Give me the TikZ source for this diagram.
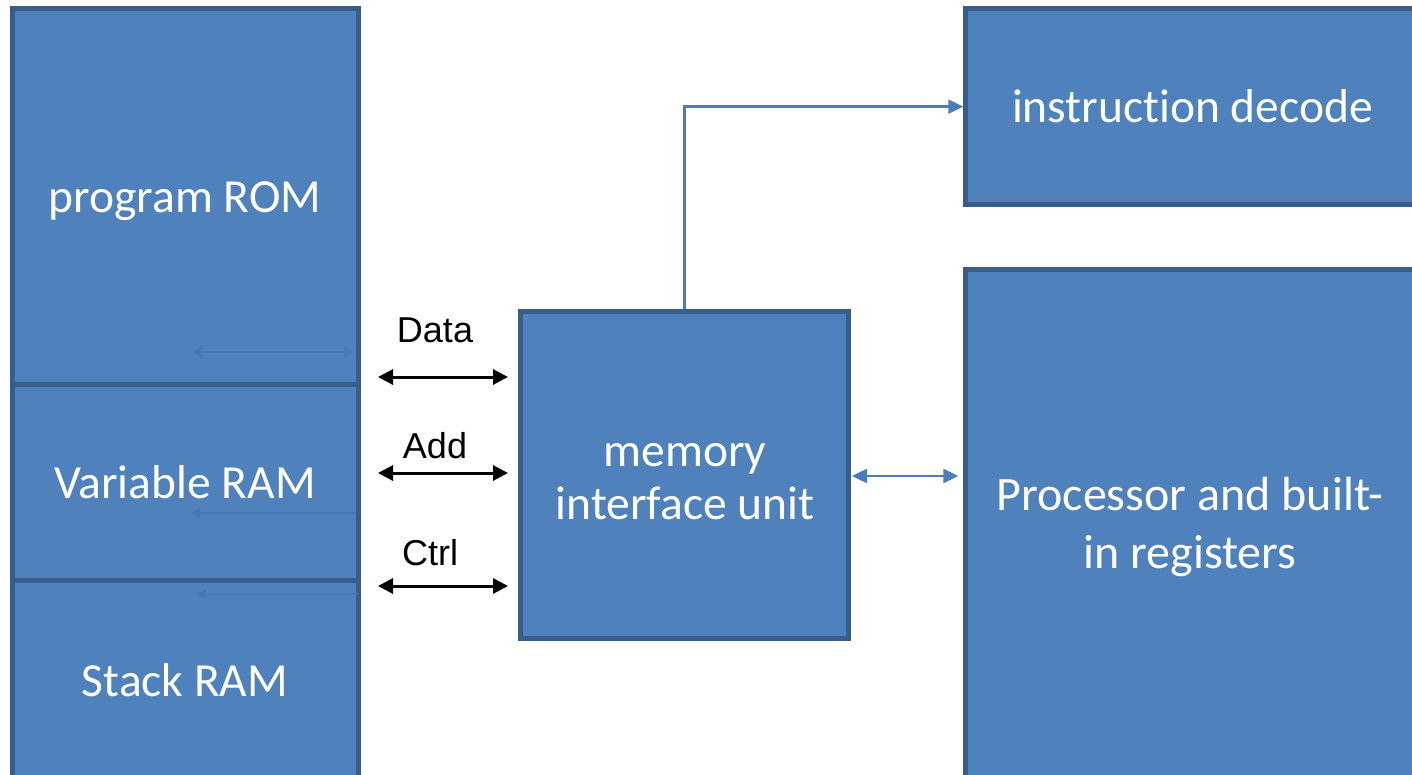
\documentclass[tikz,border=0pt]{standalone}
\usepackage{fontspec}
\setmainfont{Carlito}[Ligatures=NoCommon]
\newfontfamily\arialfont{Liberation Sans}
\usetikzlibrary{arrows.meta}
\definecolor{boxfill}{HTML}{4F81BD}
\definecolor{boxline}{HTML}{385D8A}
\definecolor{wire}{HTML}{4A7EBB}
\definecolor{ghost}{HTML}{4877B4}

\begin{document}
\begin{tikzpicture}[x=1pt,y=-1pt,
  block/.style={draw=boxline, fill=boxfill, line width=5pt, inner sep=0pt},
  blocktext/.style={inner sep=0pt, anchor=base, text=white, align=center,
    font=\fontsize{47.5}{53}\selectfont},
  buslabel/.style={inner sep=0pt, text=black, font=\arialfont\fontsize{36}{43}\selectfont},
  bus/.style={line width=3pt, draw=black,
    {Triangle[length=15pt,width=15pt]}-{Triangle[length=15pt,width=15pt]}},
  link/.style={line width=2.5pt, draw=wire, -{Triangle[length=15pt,width=14pt]}},
  biglink/.style={line width=2.5pt, draw=wire,
    {Triangle[length=15pt,width=14pt]}-{Triangle[length=15pt,width=14pt]}},
  faint/.style={line width=2pt, draw=ghost},
]
\useasboundingbox (0,0) rectangle (1412,775);
\clip (0,0) rectangle (1412,775);

% memory column
\node[block, minimum width=346pt, minimum height=376pt] (rom) at (185.5,196.5) {};
\node[block, minimum width=346pt, minimum height=196pt] (var) at (185.5,482.5) {};
\node[block, minimum width=346pt, minimum height=220pt] (stack) at (185.5,690.5) {};

% interface and processor blocks
\node[block, minimum width=328pt, minimum height=327pt] (miu) at (684.5,475) {};
\node[block, minimum width=454.2pt, minimum height=196.3pt] (dec) at (1192.9,106.65) {};
\node[block, minimum width=454.2pt, minimum height=540pt] (proc) at (1192.9,539.8) {};

% block captions (anchored on the baseline of their last line)
\node[blocktext] (romText) at (185,212.3) {program ROM};
\node[blocktext] (varText) at (185,498.3) {Variable RAM};
\node[blocktext] (stackText) at (185,696) {Stack RAM};
\node[blocktext] (miuText) at (685,519.3) {memory\\interface unit};
\node[blocktext] (decText) at (1192.5,122.3) {instruction decode};
\node[blocktext, font=\fontsize{48}{57.5}\selectfont] (procText) at (1190,568.3) {Processor and built-\\in registers};

% faint internal arrows in the memory column
\coordinate (fa1) at (192,352); \coordinate (fb1) at (354,352);
\coordinate (fa2) at (190,513); \coordinate (fb2) at (356,513);
\coordinate (fa3) at (196,594); \coordinate (fb3) at (358,594);
\draw[faint, {Triangle[length=10pt,width=10pt]}-{Triangle[length=10pt,width=10pt]}] (fa1) -- (fb1);
\draw[faint, {Triangle[length=10pt,width=10pt]}-] (fa2) -- (fb2);
\draw[faint, {Triangle[length=10pt,width=10pt]}-] (fa3) -- (fb3);

% bus labels
\node[buslabel] (dataLbl) at (435,330) {Data};
\node[buslabel] (addLbl) at (435,446) {Add};
\node[buslabel] (ctrlLbl) at (430,553) {Ctrl};

% buses between memory and interface unit
\draw[bus, shorten <=17pt, shorten >=10pt] (rom.east |- 0,377) -- (miu.west |- 0,377);
\draw[bus, shorten <=17pt, shorten >=10pt] (var.east |- 0,473) -- (miu.west |- 0,473);
\draw[bus, shorten <=17pt, shorten >=10pt] (stack.east |- 0,586) -- (miu.west |- 0,586);

% instruction fetch path and processor link
\draw[link] (miu.north) |- (dec.west);
\draw[biglink, shorten <=1pt, shorten >=5pt] (miu.east |- 0,476) -- (proc.west |- 0,476);
\end{tikzpicture}
\end{document}
